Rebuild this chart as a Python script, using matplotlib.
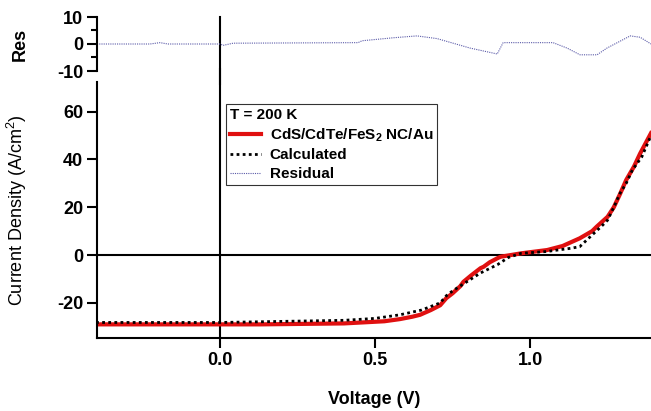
import matplotlib.pyplot as plt

plt.rcParams['font.family'] = 'Liberation Sans'
plt.rcParams['mathtext.fontset'] = 'custom'
plt.rcParams['mathtext.rm'] = 'Liberation Sans'
plt.rcParams['mathtext.bf'] = 'Liberation Sans:bold'

# measured J-V curve (red)
v_data = [-0.40, -0.20, 0.0, 0.13, 0.40, 0.53, 0.58, 0.62, 0.645, 0.68, 0.71, 0.73, 0.75,
          0.775, 0.785, 0.81, 0.84, 0.85, 0.87, 0.895, 0.905, 0.97, 1.0, 1.055, 1.105, 1.16,
          1.20, 1.215, 1.25, 1.27, 1.29, 1.31, 1.335, 1.355, 1.39]
j_data = [-29.0, -29.0, -29.0, -29.0, -28.6, -27.7, -26.8, -25.8, -25.0, -23.0, -21.0, -18.0, -16.0,
          -13.0, -11.2, -8.5, -5.5, -4.9, -3.0, -1.3, -0.7, 0.7, 1.2, 2.1, 3.8, 7.0,
          10.0, 11.9, 16.0, 20.0, 25.5, 31.4, 37.0, 42.5, 51.0]

# calculated fit (black dotted)
v_calc = [-0.40, 0.0, 0.40, 0.50, 0.58, 0.65, 0.71, 0.73, 0.75, 0.78, 0.81, 0.84, 0.895, 0.93,
          0.97, 1.0, 1.055, 1.10, 1.13, 1.16, 1.20, 1.23, 1.25, 1.27, 1.29, 1.31, 1.33, 1.36, 1.39]
j_calc = [-28.2, -28.2, -27.3, -26.5, -25.0, -23.0, -20.0, -17.0, -15.0, -12.5, -10.0, -7.5, -4.0, -1.0,
          0.7, 1.0, 1.5, 2.3, 2.8, 3.5, 8.4, 12.0, 14.6, 20.0, 25.8, 30.0, 35.6, 41.0, 50.0]

# residual (top panel)
v_res = [-0.397, -0.226, -0.194, -0.168, 0.0, 0.01, 0.042, 0.445, 0.458, 0.558, 0.635,
         0.70, 0.806, 0.894, 0.913, 1.074, 1.119, 1.161, 1.216, 1.248, 1.323, 1.355, 1.39]
res = [0.0, 0.0, 0.5, 0.0, 0.0, -0.5, 0.3, 0.5, 1.2, 2.3, 3.0,
       2.0, -1.5, -3.7, 0.5, 0.5, -1.5, -4.0, -4.0, -1.5, 3.0, 2.5, 0.0]

fig = plt.figure(figsize=(6.51, 4.11), dpi=100)
ax = fig.add_axes([97 / 651, 73 / 411, 554 / 651, 256 / 411])
axr = fig.add_axes([97 / 651, 340 / 411, 554 / 651, 54 / 411], sharex=ax)
axr.patch.set_visible(False)

ax.axhline(0, color='k', lw=1.5)
ax.axvline(0, ymin=0, ymax=1.05, color='k', lw=1.5, clip_on=False)
axr.axvline(0, ymin=-0.25, ymax=1.0, color='k', lw=1.5, clip_on=False)
ax.plot(v_data, j_data, color='#e01010', lw=3, label='CdS/CdTe/FeS$_\\mathbf{2}$ NC/Au')
ax.plot(v_calc, j_calc, color='k', lw=2, ls=(0, (1, 1.2)), label='Calculated')
ax.plot([], [], color='#5a5aa8', lw=0.8, ls=(0, (1, 1)), label='Residual')
axr.plot(v_res, res, color='#5a5aa8', lw=0.8, ls=(0, (1, 1)))

ax.set_xlim(-0.397, 1.39)
ax.set_ylim(-34.7, 72.4)
axr.set_ylim(-10, 10)

for a in (ax, axr):
    a.spines['top'].set_visible(False)
    a.spines['right'].set_visible(False)
    a.spines['left'].set_linewidth(1.5)
    a.spines['bottom'].set_linewidth(1.5)
    a.tick_params(direction='out', width=1.5, length=7, labelsize=13, pad=3)

axr.spines['bottom'].set_visible(False)
axr.tick_params(axis='x', bottom=False, labelbottom=False)
axr.set_yticks([-10, 0, 10])
axr.set_yticklabels(['-10', '0', '10'], fontweight='bold')
axr.set_yticks([-5, 5], minor=True)
axr.tick_params(axis='y', which='minor', width=1.5, length=4)

ax.set_xticks([0.0, 0.5, 1.0])
ax.set_xticklabels(['0.0', '0.5', '1.0'], fontweight='bold')
ax.set_yticks([-20, 0, 20, 40, 60])
ax.set_yticklabels(['-20', '0', '20', '40', '60'], fontweight='bold')

ax.set_xlabel('Voltage (V)', fontsize=13, fontweight='bold', labelpad=16)
ax.set_ylabel('Current Density (A/cm$^2$)', fontsize=13, labelpad=20)
axr.set_ylabel('Res', fontsize=13, fontweight='bold', labelpad=20)
fig.align_ylabels([ax, axr])

leg = ax.legend(title='T = 200 K', loc='upper left', bbox_to_anchor=(0.2195, 0.945),
                frameon=True, fancybox=False, edgecolor='k', handlelength=2.0,
                borderpad=0.25, labelspacing=0.3, handletextpad=0.6,
                prop={'weight': 'bold', 'size': 11})
leg.get_frame().set_linewidth(0.8)
leg.get_title().set_fontweight('bold')
leg.get_title().set_fontsize(11)
leg._legend_box.align = 'left'

fig.savefig('out.png', dpi=100)
